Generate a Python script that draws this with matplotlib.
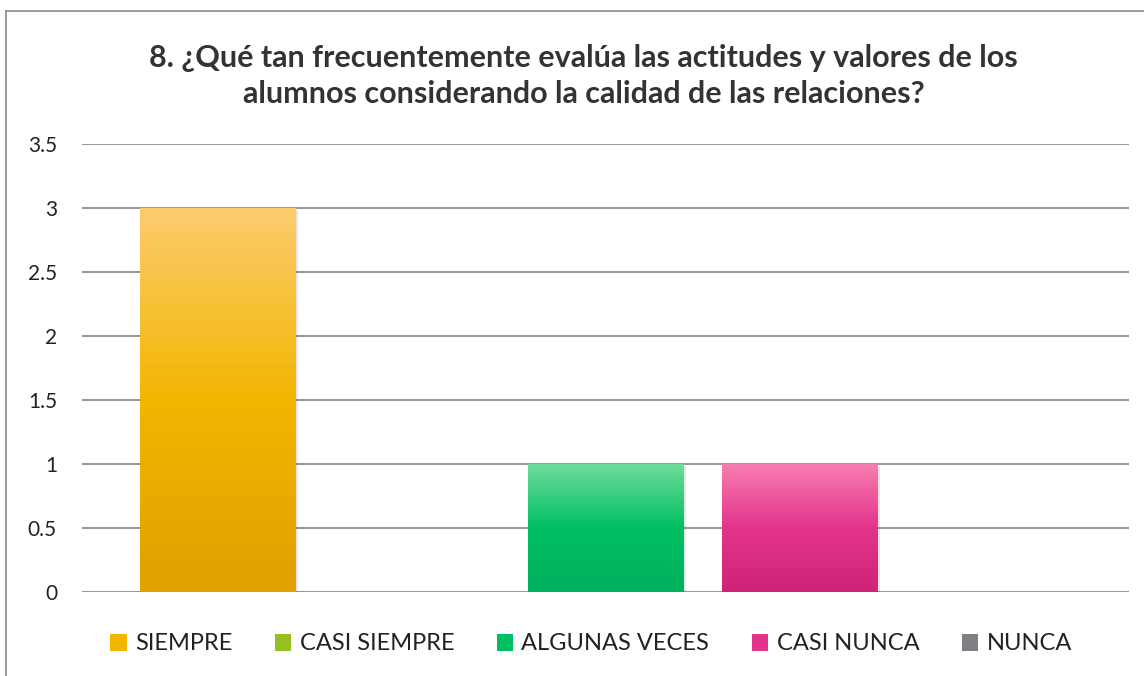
import numpy as np
import matplotlib
matplotlib.use('Agg')
import matplotlib.pyplot as plt
from matplotlib.colors import LinearSegmentedColormap
from matplotlib.patches import Rectangle
from matplotlib.lines import Line2D
import matplotlib.patheffects as pe

plt.rcParams['font.family'] = ['Lato', 'DejaVu Sans']

# data
categorias = ['SIEMPRE', 'CASI SIEMPRE', 'ALGUNAS VECES', 'CASI NUNCA', 'NUNCA']
valores = [3, 0, 1, 1, 0]
# top, middle, bottom colour of each gradient
gradientes = [('#fdcc6e', '#f2b600', '#e0a000'),
              ('#b5dc4a', '#94c11f', '#85ad12'),
              ('#6edc9a', '#00bf63', '#00b25e'),
              ('#f87db1', '#e2348b', '#cf2379'),
              ('#a3a3a8', '#7e7e84', '#6e6e74')]
titulo = ('8. ¿Qué tan frecuentemente evalúa las actitudes y valores de los\n'
          'alumnos considerando la calidad de las relaciones?')

fig = plt.figure(figsize=(11.44, 6.76), dpi=100)
ax = fig.add_axes([82/1144, 1 - 592/676, (1129 - 82)/1144, (592 - 144)/676])

x = np.arange(len(categorias))
ancho = 0.8
barras = ax.bar(x, valores, width=ancho, color='none', zorder=3,
                path_effects=[pe.SimplePatchShadow(offset=(2, -1.5), alpha=0.2, rho=0.5),
                              pe.Normal()])

for b, v, (c1, c2, c3) in zip(barras, valores, gradientes):
    if v <= 0:
        continue
    cmap = LinearSegmentedColormap.from_list('g', [c3, c2, c1])
    grad = np.linspace(0, 1, 256).reshape(-1, 1)
    im = ax.imshow(grad, cmap=cmap, origin='lower', aspect='auto', zorder=4,
                   extent=(b.get_x(), b.get_x() + b.get_width(), 0, v))
    im.set_clip_path(b)

ax.set_xlim(-0.7, 4.7)
ax.set_ylim(0, 3.5)
ax.set_yticks(np.arange(0, 3.51, 0.5))
ax.set_yticklabels(['0', '0.5', '1', '1.5', '2', '2.5', '3', '3.5'])
ax.set_xticks([])
ax.grid(axis='y', color='#8c8c8c', linewidth=1.3, zorder=0)
for s in ax.spines.values():
    s.set_visible(False)
ax.tick_params(axis='y', length=0, pad=18, labelsize=15, labelcolor='#222222')

fig.text(0.51, 1 - 76/676, titulo, ha='center', va='center', fontsize=22,
         fontweight='bold', color='#333333', linespacing=1.33)

handles = [Rectangle((0, 0), 1, 1, facecolor=c[1]) for c in gradientes]
fig.legend(handles, categorias, loc='center', bbox_to_anchor=(591/1144, 1 - 644/676),
           ncol=5, frameon=False, fontsize=17, handlelength=0.7, handleheight=0.7,
           handletextpad=0.35, columnspacing=1.8, labelcolor='#222222')

# outer border (left and top only)
fig.add_artist(Line2D([6/1144, 6/1144], [0, 1 - 11/676], transform=fig.transFigure,
                      color='#8c8c8c', linewidth=1.2))
fig.add_artist(Line2D([6/1144, 1], [1 - 11/676, 1 - 11/676], transform=fig.transFigure,
                      color='#8c8c8c', linewidth=1.2))

fig.savefig('out.png', dpi=100)
